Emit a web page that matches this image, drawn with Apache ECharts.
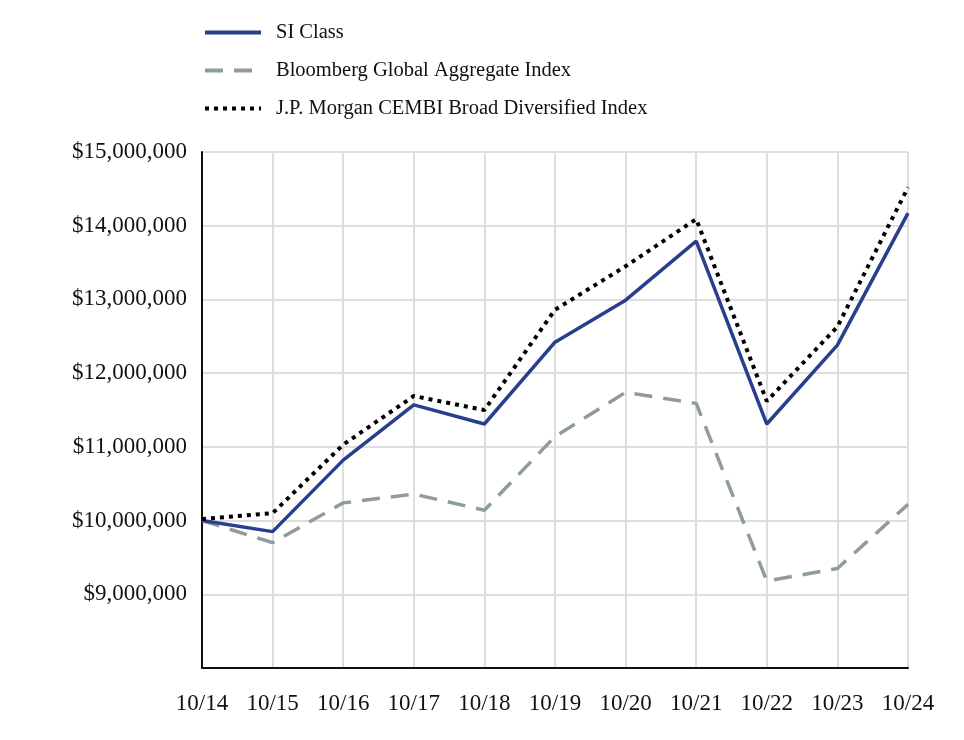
<!DOCTYPE html>
<html>
<head>
<meta charset="utf-8">
<script src="https://cdn.jsdelivr.net/npm/echarts@6/dist/echarts.min.js"></script>
<style>html,body{margin:0;padding:0;background:#fff}#c{width:964px;height:740px}</style>
</head>
<body>
<div id="c"></div>
<script>
const categories = ['10/14','10/15','10/16','10/17','10/18','10/19','10/20','10/21','10/22','10/23','10/24'];
const siClass = [10000000, 9850000, 10820000, 11570000, 11310000, 12420000, 12990000, 13790000, 11310000, 12380000, 14170000];
const bloomberg = [10000000, 9700000, 10240000, 10360000, 10140000, 11140000, 11740000, 11590000, 9180000, 9350000, 10220000];
const jpMorgan = [10020000, 10100000, 11030000, 11690000, 11500000, 12860000, 13450000, 14090000, 11620000, 12630000, 14520000];
const seriesNames = ['SI Class', 'Bloomberg Global Aggregate Index', 'J.P. Morgan CEMBI Broad Diversified Index'];

const FONT = 'Liberation Serif';
const chart = echarts.init(document.getElementById('c'), null, {renderer: 'canvas'});
chart.setOption({
  animation: false,
  backgroundColor: '#fff',
  textStyle: {fontFamily: FONT},
  legend: {
    orient: 'vertical',
    left: 198,
    top: 17,
    itemWidth: 56,
    itemHeight: 4,
    itemGap: 17,
    lineStyle: {width: 4},
    itemStyle: {color: 'transparent', borderWidth: 0, opacity: 0},
    textStyle: {fontFamily: FONT, fontSize: 20.5, color: '#111', padding: [0, 0, 0, 10], lineHeight: 21},
    data: seriesNames
  },
  grid: {left: 202, right: 56, top: 152, bottom: 72, containLabel: false},
  xAxis: {
    type: 'category',
    data: categories,
    boundaryGap: false,
    axisLine: {lineStyle: {color: '#111', width: 2}},
    axisTick: {show: false},
    axisLabel: {fontFamily: FONT, fontSize: 23, color: '#111', margin: 24},
    splitLine: {show: true, lineStyle: {color: '#dedede', width: 2}}
  },
  yAxis: {
    type: 'value',
    min: 8000000,
    max: 15000000,
    interval: 1000000,
    axisLine: {show: true, lineStyle: {color: '#111', width: 2}},
    axisTick: {show: false},
    axisLabel: {
      fontFamily: FONT, fontSize: 23, color: '#111', margin: 15,
      formatter: function (v) { return v === 8000000 ? '' : '$' + v.toLocaleString('en-US'); }
    },
    splitLine: {show: true, lineStyle: {color: '#dedede', width: 2}}
  },
  series: [
    {name: seriesNames[0], type: 'line', data: siClass, symbol: 'none',
     lineStyle: {color: '#2a3f8c', width: 3.5}, itemStyle: {color: '#2a3f8c'}, z: 3},
    {name: seriesNames[1], type: 'line', data: bloomberg, symbol: 'none',
     lineStyle: {color: '#8f9c9e', width: 3.5, type: [18, 11]}, itemStyle: {color: '#8f9c9e'}, z: 2},
    {name: seriesNames[2], type: 'line', data: jpMorgan, symbol: 'none',
     lineStyle: {color: '#000', width: 4, type: [4, 5]}, itemStyle: {color: '#000'}, z: 4}
  ]
});
</script>
</body>
</html>
